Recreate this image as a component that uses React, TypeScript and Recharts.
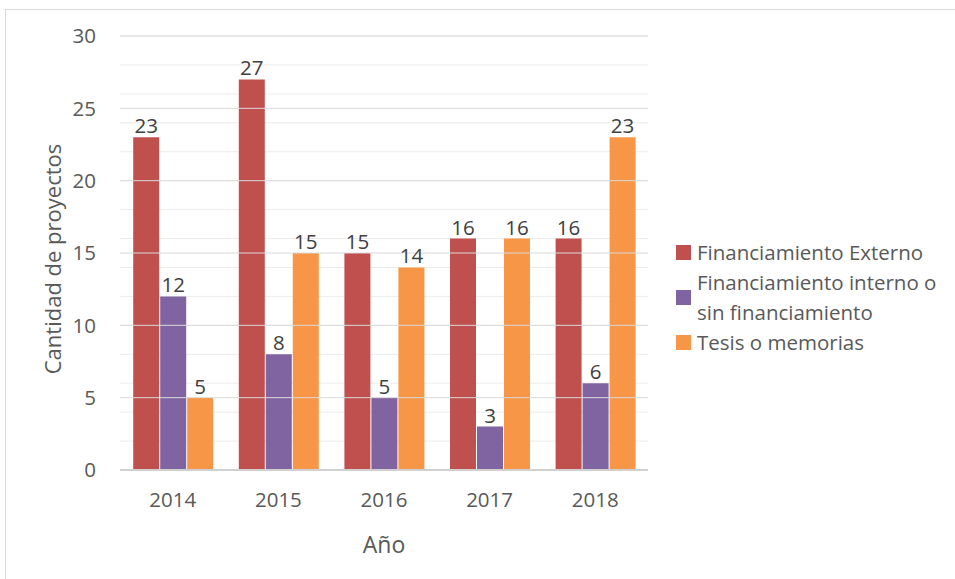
import React from 'react'
import {
  BarChart, Bar, XAxis, YAxis, CartesianGrid, LabelList, ReferenceLine,
} from 'recharts'

const YEARS = ['2014', '2015', '2016', '2017', '2018']
const EXTERNO = [23, 27, 15, 16, 16]
const INTERNO = [12, 8, 5, 3, 6]
const TESIS = [5, 15, 14, 16, 23]
const MAJOR_TICKS = [0, 5, 10, 15, 20, 25, 30]
const MINOR_TICKS = Array.from({ length: 31 }, (_, i) => i)

const SERIES = [
  { key: 'externo', name: 'Financiamiento Externo', color: '#C0504D' },
  { key: 'interno', name: 'Financiamiento interno o sin financiamiento', color: '#8064A2' },
  { key: 'tesis', name: 'Tesis o memorias', color: '#F79646' },
]

const FONT = '"Open Sans", sans-serif'
const TEXT = '#595959'

const data = YEARS.map((y, i) => ({
  year: y,
  externo: EXTERNO[i],
  interno: INTERNO[i],
  tesis: TESIS[i],
}))

function LegendBox() {
  return (
    <div style={{
      position: 'absolute', left: 676, top: 237, width: 275,
      fontFamily: FONT, fontSize: 20.5, color: TEXT, lineHeight: '30px',
    }}>
      {SERIES.map((s) => (
        <div key={s.key} style={{ display: 'flex', alignItems: 'center' }}>
          <span style={{ width: 15, height: 15, background: s.color, marginRight: 6, flexShrink: 0 }} />
          <span style={{ width: 254 }}>{s.name}</span>
        </div>
      ))}
    </div>
  )
}

export default function App() {
  return (
    <div style={{ position: 'fixed', left: 0, top: 0, width: 955, height: 579, background: '#fff', overflow: 'hidden' }}>
      <div style={{
        position: 'absolute', left: 5, top: 9, width: 960, height: 580,
        borderLeft: '1px solid #d9d9d9', borderTop: '1px solid #d9d9d9',
      }} />
      <BarChart
        width={955}
        height={579}
        data={data}
        margin={{ top: 36, right: 307, left: 60, bottom: 44 }}
        barCategoryGap="12.5%"
        barGap={1}
      >
        <CartesianGrid horizontal vertical={false} stroke="#ececec" horizontalValues={MINOR_TICKS} />
        {MAJOR_TICKS.map((t) => (
          <ReferenceLine key={t} y={t} stroke={t === 0 ? '#d0d0d0' : '#d9d9d9'} strokeWidth={t === 0 ? 2 : 1} />
        ))}
        <XAxis
          dataKey="year"
          axisLine={false}
          tickLine={false}
          tick={{ fill: TEXT, fontSize: 20.5, fontFamily: FONT }}
          tickMargin={16}
          height={65}
          label={{ value: 'Año', position: 'insideBottom', offset: -18, fill: TEXT, fontSize: 23, fontFamily: FONT }}
        />
        <YAxis
          domain={[0, 30]}
          ticks={MAJOR_TICKS}
          axisLine={false}
          tickLine={false}
          width={60}
          tickMargin={18}
          tick={{ fill: TEXT, fontSize: 20.5, fontFamily: FONT }}
          label={{ value: 'Cantidad de proyectos', angle: -90, position: 'insideLeft', offset: -7, dy: 6, fill: TEXT, fontSize: 22, fontFamily: FONT, style: { textAnchor: 'middle' } }}
        />
        {SERIES.map((s) => (
          <Bar key={s.key} dataKey={s.key} name={s.name} fill={s.color} isAnimationActive={false}>
            <LabelList dataKey={s.key} position="top" offset={4} fill="#404040" fontSize={20.5} fontFamily={FONT} />
          </Bar>
        ))}
      </BarChart>
      <LegendBox />
    </div>
  )
}
